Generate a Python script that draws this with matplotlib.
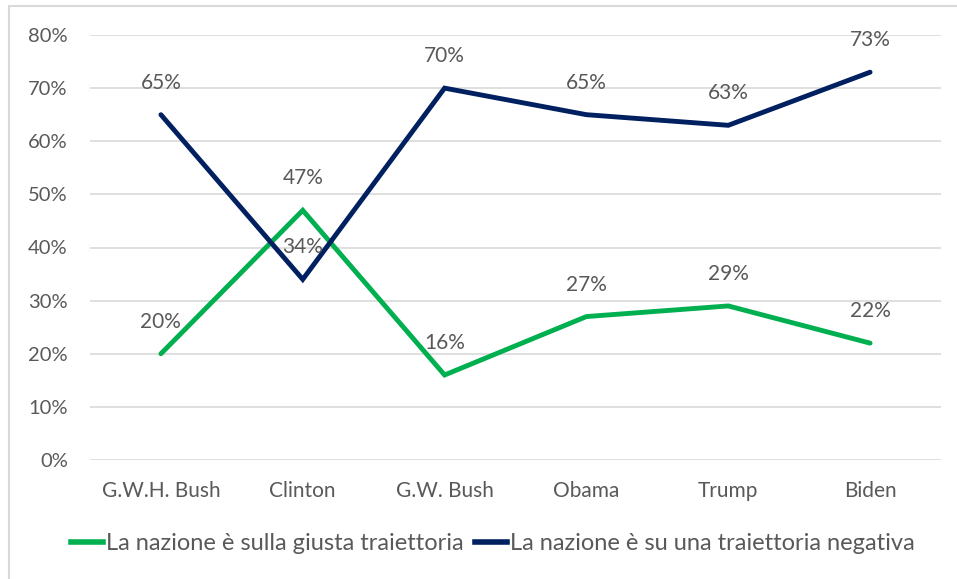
import matplotlib
matplotlib.use("Agg")
import matplotlib.pyplot as plt
from matplotlib.ticker import FuncFormatter
from matplotlib.patches import Rectangle
from matplotlib.lines import Line2D

categories = ["G.W.H. Bush", "Clinton", "G.W. Bush", "Obama", "Trump", "Biden"]
giusta = [20, 47, 16, 27, 29, 22]
negativa = [65, 34, 70, 65, 63, 73]
series_names = ["La nazione è sulla giusta traiettoria", "La nazione è su una traiettoria negativa"]

GREEN = "#00B050"
NAVY = "#002060"
TXT = "#595959"
GRID = "#D9D9D9"

plt.rcParams['font.family'] = ['Lato', 'DejaVu Sans']
FS = 14.5
FS_LAB = 15
FS_LEG = 17

fig = plt.figure(figsize=(9.57, 5.79), dpi=100)
ax = fig.add_axes([90/957, 1-460/579, (941-90)/957, (460-35)/579])

x = list(range(len(categories)))
ax.plot(x, giusta, color=GREEN, lw=3.5, solid_capstyle='round', solid_joinstyle='miter', label=series_names[0], zorder=3)
ax.plot(x, negativa, color=NAVY, lw=3.5, solid_capstyle='round', solid_joinstyle='miter', label=series_names[1], zorder=3)

for xi, v in zip(x, giusta):
    ax.annotate(f"{v}%", (xi, v), xytext=(0, 23), textcoords='offset points',
                ha='center', va='center', fontsize=FS_LAB, color=TXT, zorder=4)
for xi, v in zip(x, negativa):
    ax.annotate(f"{v}%", (xi, v), xytext=(0, 23), textcoords='offset points',
                ha='center', va='center', fontsize=FS_LAB, color=TXT, zorder=4)

ax.set_xlim(-0.5, len(categories) - 0.5)
ax.set_ylim(0, 80)
ax.set_yticks(range(0, 81, 10))
ax.yaxis.set_major_formatter(FuncFormatter(lambda v, p: f"{int(v)}%"))
ax.set_xticks(x)
ax.set_xticklabels(categories)
ax.grid(axis='y', color=GRID, lw=1.2)
ax.set_axisbelow(True)
for s in ax.spines.values():
    s.set_visible(False)
ax.tick_params(length=0, labelsize=FS, labelcolor=TXT)
ax.tick_params(axis='x', labelsize=FS_LAB)
ax.tick_params(axis='y', pad=16)
ax.tick_params(axis='x', pad=15)

handles = [Line2D([], [], color=GREEN, lw=4), Line2D([], [], color=NAVY, lw=4)]
fig.legend(handles, series_names, loc='center', bbox_to_anchor=(493/957, 1-544/579),
           ncol=2, frameon=False, fontsize=FS_LEG, labelcolor=TXT,
           handlelength=1.35, handletextpad=0.12, columnspacing=0.5)

fig.add_artist(Rectangle((9/957, -0.1), 2, 1.1-6/579, transform=fig.transFigure,
                         fill=False, edgecolor=GRID, lw=1.5))

fig.savefig("out.png", dpi=100)
